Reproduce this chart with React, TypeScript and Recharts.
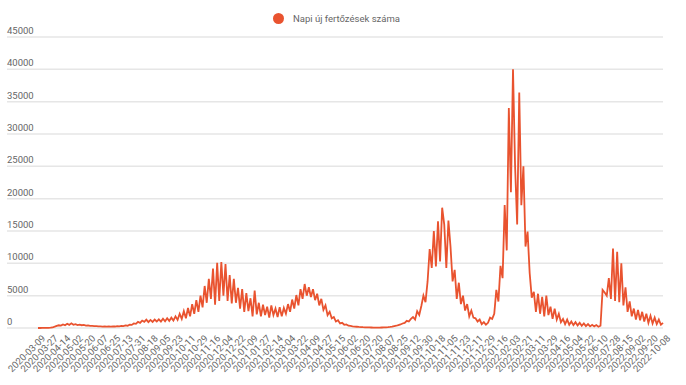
import React from 'react';
import { LineChart, Line, XAxis, YAxis, CartesianGrid } from 'recharts';

// labels shown every 18th reported day
const tickDates = [
  '2020-03-09', '2020-03-27', '2020-04-14', '2020-05-02', '2020-05-20', '2020-06-07',
  '2020-06-25', '2020-07-13', '2020-07-31', '2020-08-18', '2020-09-05', '2020-09-23',
  '2020-10-11', '2020-10-29', '2020-11-16', '2020-12-04', '2020-12-22', '2021-01-09',
  '2021-01-27', '2021-02-14', '2021-03-04', '2021-03-22', '2021-04-09', '2021-04-27',
  '2021-05-15', '2021-06-02', '2021-06-20', '2021-07-20', '2021-08-07', '2021-08-25',
  '2021-09-12', '2021-09-30', '2021-10-18', '2021-11-05', '2021-11-23', '2021-12-11',
  '2021-12-29', '2022-01-16', '2022-02-03', '2022-02-21', '2022-03-11', '2022-03-29',
  '2022-04-16', '2022-05-04', '2022-05-22', '2022-06-10', '2022-07-28', '2022-08-15',
  '2022-09-02', '2022-09-20', '2022-10-08',
];

const yTicks = [0, 5000, 10000, 15000, 20000, 25000, 30000, 35000, 40000, 45000];

const DAYS_PER_LABEL = 18;
const DAYS_PER_POINT = 3;

// daily new cases, read every 3rd reported day
const newCases = [
  0, 0, 5, 10, 20, 30, 50, 80, 200, 330,
  420, 380, 560, 430, 650, 480, 720, 500, 600, 460,
  520, 430, 480, 380, 400, 320, 330, 280, 300, 250,
  260, 220, 240, 200, 230, 210, 250, 230, 290, 260,
  330, 300, 400, 350, 520, 480, 700, 650, 950, 800,
  1150, 950, 1300, 900, 1250, 950, 1300, 1000, 1350, 1000,
  1450, 1050, 1500, 1100, 1600, 1150, 1800, 1250, 2200, 1400,
  2600, 1500, 3100, 1800, 3700, 2200, 4300, 2500, 5000, 3200,
  6500, 3900, 7600, 4500, 9200, 3600, 10100, 4200, 10200, 5000,
  9900, 4200, 8200, 3800, 7600, 3900, 6200, 3000, 6000, 2500,
  5400, 2600, 4600, 1800, 5800, 2100, 3900, 1800, 3600, 2000,
  3300, 1600, 3500, 2000, 3000, 1700, 3200, 1800, 3100, 2200,
  3700, 2500, 4400, 3000, 5100, 3500, 6000, 4500, 6800, 5000,
  6300, 4800, 6000, 4300, 5300, 3500, 4500, 2800, 3500, 2000,
  2500, 1500, 1700, 1000, 1200, 700, 800, 500, 550, 350,
  320, 260, 220, 190, 160, 140, 120, 110, 100, 90,
  80, 70, 60, 60, 70, 80, 90, 110, 130, 160,
  200, 280, 350, 450, 550, 700, 800, 1100, 1000, 1400,
  1700, 1300, 2600, 2000, 3400, 5000, 4000, 7200, 12200, 9300,
  15000, 9500, 16500, 10300, 18600, 16000, 9300, 16600, 12600, 7200,
  9000, 4500, 7000, 3700, 5000, 2700, 3700, 1800, 2700, 1600,
  1500, 1000, 1300, 600, 900, 500, 800, 1600, 1400, 2200,
  5900, 4100, 9600, 7700, 19000, 12000, 34000, 21000, 40000, 25000,
  16000, 36400, 19000, 25000, 12600, 14900, 8500, 4700, 5600, 2500,
  5300, 2200, 4800, 1800, 5000, 2000, 3300, 1400, 3000, 1300,
  2200, 900, 1400, 600, 1300, 500, 1000, 450, 900, 400,
  800, 350, 700, 300, 600, 250, 500, 250, 450, 200,
  350, 5900, 5500, 5000, 7700, 4500, 12300, 4200, 11800, 4000,
  10000, 3500, 6300, 2500, 4100, 1800, 3000, 1300, 2800, 1200,
  2500, 1000, 2200, 800, 1900, 700, 1600, 600, 1300, 500,
  800,
];

const data = newCases.map((v, i) => ({ day: i * DAYS_PER_POINT, cases: v }));
const tickDays = tickDates.map((_, i) => i * DAYS_PER_LABEL);

const LINE_COLOR = '#e9532f';
const TEXT_COLOR = '#666';
const FONT = 'Roboto, sans-serif';

// y labels sit left-aligned on top of their grid line
const YTick = (props: any) => {
  const { y, payload } = props;
  return (
    <text x={7} y={y - 3} fontSize={9.5} fill={TEXT_COLOR} fontFamily={FONT} textAnchor="start">
      {payload.value}
    </text>
  );
};

const XTick = (props: any) => {
  const { x, y, payload } = props;
  const px = x + 3;
  const py = y + 6;
  return (
    <text
      x={px}
      y={py}
      dy={7}
      textAnchor="end"
      transform={`rotate(-45, ${px}, ${py})`}
      fontSize={9.5}
      fill={TEXT_COLOR}
      fontFamily={FONT}
    >
      {tickDates[Math.round(payload.value / DAYS_PER_LABEL)]}
    </text>
  );
};

const App = () => {
  return (
    <div style={{ position: 'absolute', left: 0, top: 0, width: 686, height: 385, fontFamily: FONT }}>
      <div
        style={{
          position: 'absolute',
          left: 273,
          top: 8,
          height: 20,
          display: 'flex',
          alignItems: 'center',
          fontSize: 9.5,
          color: TEXT_COLOR,
        }}
      >
        <span
          style={{
            display: 'inline-block',
            width: 11,
            height: 11,
            borderRadius: '50%',
            background: LINE_COLOR,
            marginRight: 9,
          }}
        />
        Napi új fertőzések száma
      </div>
      <LineChart width={686} height={385} data={data} margin={{ top: 37, right: 23, bottom: 0, left: 5 }}>
        <CartesianGrid vertical={false} stroke="#e6e6e6" strokeWidth={1.5} />
        <XAxis
          dataKey="day"
          type="number"
          domain={[0, 900]}
          ticks={tickDays}
          interval={0}
          padding={{ left: 31, right: 0 }}
          axisLine={false}
          tickLine={false}
          tickSize={0}
          tickMargin={0}
          height={57}
          tick={XTick}
        />
        <YAxis
          width={2}
          domain={[0, 45000]}
          ticks={yTicks}
          interval={0}
          axisLine={false}
          tickLine={false}
          tick={YTick}
        />
        <Line
          type="linear"
          dataKey="cases"
          stroke={LINE_COLOR}
          strokeWidth={1.8}
          dot={false}
          isAnimationActive={false}
        />
      </LineChart>
    </div>
  );
};

export default App;
